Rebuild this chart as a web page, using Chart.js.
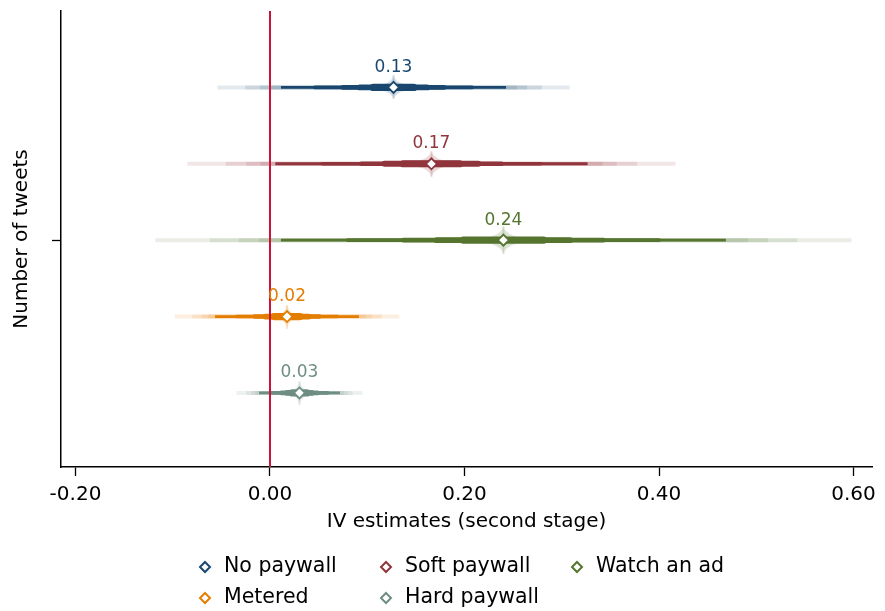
<!DOCTYPE html>
<html>
<head>
<meta charset="utf-8">
<script src="https://cdn.jsdelivr.net/npm/chart.js@4.4.1/dist/chart.umd.min.js"></script>
<style>
  html, body { margin: 0; padding: 0; background: #fff; }
  #wrap { width: 885px; height: 611px; }
</style>
</head>
<body>
<div id="wrap"><canvas id="canvas" width="885" height="611"></canvas></div>
<script>
// --- data ---
const seriesNames = ['No paywall', 'Soft paywall', 'Watch an ad', 'Metered', 'Hard paywall'];
const rowPos = [5, 4, 3, 2, 1];
const estimates = [0.127, 0.166, 0.240, 0.0175, 0.0303];
const xTicks = [-0.2, 0, 0.2, 0.4, 0.6];
const yTicks = [3];

// interval bounds per series [lo, hi], widest first
const band1 = [[-0.054, 0.308], [-0.085, 0.417], [-0.118, 0.598], [-0.098, 0.133], [-0.0345, 0.095]];
const band2 = [[-0.0255, 0.2795], [-0.0455, 0.3775], [-0.062, 0.542], [-0.080, 0.115], [-0.0245, 0.085]];
const band3 = [[-0.0103, 0.2643], [-0.0245, 0.3565], [-0.032, 0.512], [-0.070, 0.105], [-0.019, 0.0797]];
const band4 = [[0.0002, 0.2538], [-0.0099, 0.3419], [-0.0113, 0.4915], [-0.0636, 0.0986], [-0.0153, 0.0759]];
const ci95 = [[0.0113, 0.2427], [0.0055, 0.3265], [0.0112, 0.4688], [-0.0565, 0.0915], [-0.0113, 0.0719]];
const core1 = [[0.046, 0.208], [0.0536, 0.2784], [0.0798, 0.4002], [-0.0343, 0.0693], [0.0012, 0.0594]];
const core2 = [[0.0749, 0.1791], [0.0938, 0.2382], [0.137, 0.343], [-0.0158, 0.0508], [0.0116, 0.049]];
const core3 = [[0.0923, 0.1617], [0.1178, 0.2142], [0.1714, 0.3086], [-0.0047, 0.0397], [0.0178, 0.0428]];
const core4 = [[0.1062, 0.1478], [0.1371, 0.1949], [0.1988, 0.2812], [0.0042, 0.0308], [0.0228, 0.0378]];

// --- styles ---
const colors = [[26, 71, 111], [144, 53, 59], [85, 117, 47], [227, 126, 0], [110, 142, 132]];
const glowSize = [[27, 12], [32, 13], [35, 14], [14, 12], [13, 12]];
const FONT = 'DejaVu Sans';
const rgba = (c, a) => `rgba(${c[0]},${c[1]},${c[2]},${a})`;

function makeGlow(c, w, h) {
  const cv = document.createElement('canvas');
  cv.width = w * 2; cv.height = h * 2;
  const g = cv.getContext('2d');
  g.fillStyle = rgba(c, 0.2);
  g.beginPath();
  g.moveTo(w, 0);
  g.quadraticCurveTo(w + 2, h - 2, w * 2, h);
  g.quadraticCurveTo(w + 2, h + 2, w, h * 2);
  g.quadraticCurveTo(w - 2, h + 2, 0, h);
  g.quadraticCurveTo(w - 2, h - 2, w, 0);
  g.fill();
  g.fillStyle = rgba(c, 0.15);
  g.fillRect(w - 1, 0, 2, h * 2);
  return cv;
}

const layers = [
  { d: band1, width: 4, alpha: 0.12, cap: 'butt' },
  { d: band2, width: 4, alpha: 0.12, cap: 'butt' },
  { d: band3, width: 4, alpha: 0.12, cap: 'butt' },
  { d: band4, width: 4, alpha: 0.12, cap: 'butt' },
  { d: ci95, width: 2.8, alpha: 1, cap: 'butt' },
  { d: core1, width: 3.6, alpha: 1, cap: 'round' },
  { d: core2, width: 4.6, alpha: 1, cap: 'round' },
  { d: core3, width: 5.8, alpha: 1, cap: 'round' },
  { d: core4, width: 7.2, alpha: 1, cap: 'round' }
];

const datasets = [];
seriesNames.forEach((name, i) => {
  const y = rowPos[i];
  layers.forEach((L, k) => {
    datasets.push({
      type: 'line',
      label: name + ' ' + k,
      data: [{ x: L.d[i][0], y: y }, { x: L.d[i][1], y: y }],
      borderColor: rgba(colors[i], L.alpha),
      borderWidth: L.width,
      borderCapStyle: L.cap,
      pointRadius: 0,
      order: 30 - k
    });
  });
  datasets.push({
    type: 'scatter',
    label: name + ' glow',
    data: [{ x: estimates[i], y: y }],
    pointStyle: makeGlow(colors[i], glowSize[i][0], glowSize[i][1]),
    order: 2
  });
  datasets.push({
    type: 'scatter',
    label: name,
    data: [{ x: estimates[i], y: y }],
    pointStyle: 'rectRot',
    pointRadius: 5.5,
    backgroundColor: '#fff',
    borderColor: rgba(colors[i], 1),
    borderWidth: 1.8,
    order: 0
  });
});

const extras = {
  id: 'extras',
  afterDatasetsDraw(chart) {
    const { ctx, chartArea, scales } = chart;
    // zero reference line
    const x0 = scales.x.getPixelForValue(0);
    ctx.save();
    ctx.strokeStyle = '#cc1237';
    ctx.lineWidth = 2;
    ctx.beginPath();
    ctx.moveTo(x0, chartArea.top);
    ctx.lineTo(x0, chartArea.bottom);
    ctx.stroke();
    // value labels
    ctx.font = '17px ' + FONT;
    ctx.textAlign = 'center';
    ctx.textBaseline = 'middle';
    estimates.forEach((v, i) => {
      ctx.fillStyle = rgba(colors[i], 1);
      ctx.fillText(v.toFixed(2), scales.x.getPixelForValue(v), scales.y.getPixelForValue(rowPos[i]) - 20);
    });
    ctx.restore();
  },
  afterDraw(chart) {
    const ctx = chart.ctx;
    const colX = [205, 386, 577];
    const rowY = [567, 598];
    ctx.save();
    ctx.font = '20.5px ' + FONT;
    ctx.textBaseline = 'middle';
    ctx.textAlign = 'left';
    seriesNames.forEach((name, i) => {
      const cx = colX[i % 3], cy = rowY[Math.floor(i / 3)];
      ctx.strokeStyle = rgba(colors[i], 1);
      ctx.lineWidth = 2;
      ctx.beginPath();
      ctx.moveTo(cx, cy - 5); ctx.lineTo(cx + 5, cy); ctx.lineTo(cx, cy + 5); ctx.lineTo(cx - 5, cy);
      ctx.closePath();
      ctx.stroke();
      ctx.fillStyle = '#000';
      ctx.fillText(name, cx + 19, cy);
    });
    ctx.restore();
  }
};

const config = {
  type: 'scatter',
  data: { datasets: datasets },
  options: {
    responsive: false,
    animation: false,
    devicePixelRatio: 1,
    layout: { padding: { top: 11, right: 13, bottom: 69, left: 0 } },
    plugins: { legend: { display: false }, tooltip: { enabled: false } },
    scales: {
      x: {
        type: 'linear',
        min: -0.2149,
        max: 0.619,
        afterBuildTicks: (s) => { s.ticks = xTicks.map(v => ({ value: v })); },
        afterFit: (s) => { s.height = 75; },
        ticks: {
          color: '#000',
          font: { family: FONT, size: 20 },
          padding: 7,
          maxRotation: 0,
          callback: (v) => Number(v).toFixed(2)
        },
        grid: { drawOnChartArea: false, color: '#000', tickLength: 9, tickWidth: 1.3 },
        border: { color: '#000', width: 1.5 },
        title: {
          display: true,
          text: 'IV estimates (second stage)',
          color: '#000',
          font: { family: FONT, size: 20 },
          padding: { top: 0, bottom: 8 }
        }
      },
      y: {
        type: 'linear',
        min: 0.03,
        max: 6,
        afterBuildTicks: (s) => { s.ticks = yTicks.map(v => ({ value: v })); },
        afterFit: (s) => { s.width = 61; },
        ticks: { display: true, callback: () => '' },
        grid: { drawOnChartArea: false, color: '#000', tickLength: 9, tickWidth: 1.3 },
        border: { color: '#000', width: 1.5 },
        title: {
          display: true,
          text: 'Number of tweets',
          color: '#000',
          font: { family: FONT, size: 20 },
          padding: { top: 10, bottom: 0 }
        }
      }
    }
  },
  plugins: [extras]
};

const canvas = document.getElementById('canvas');
const chart = new Chart(canvas, config);
</script>
</body>
</html>
